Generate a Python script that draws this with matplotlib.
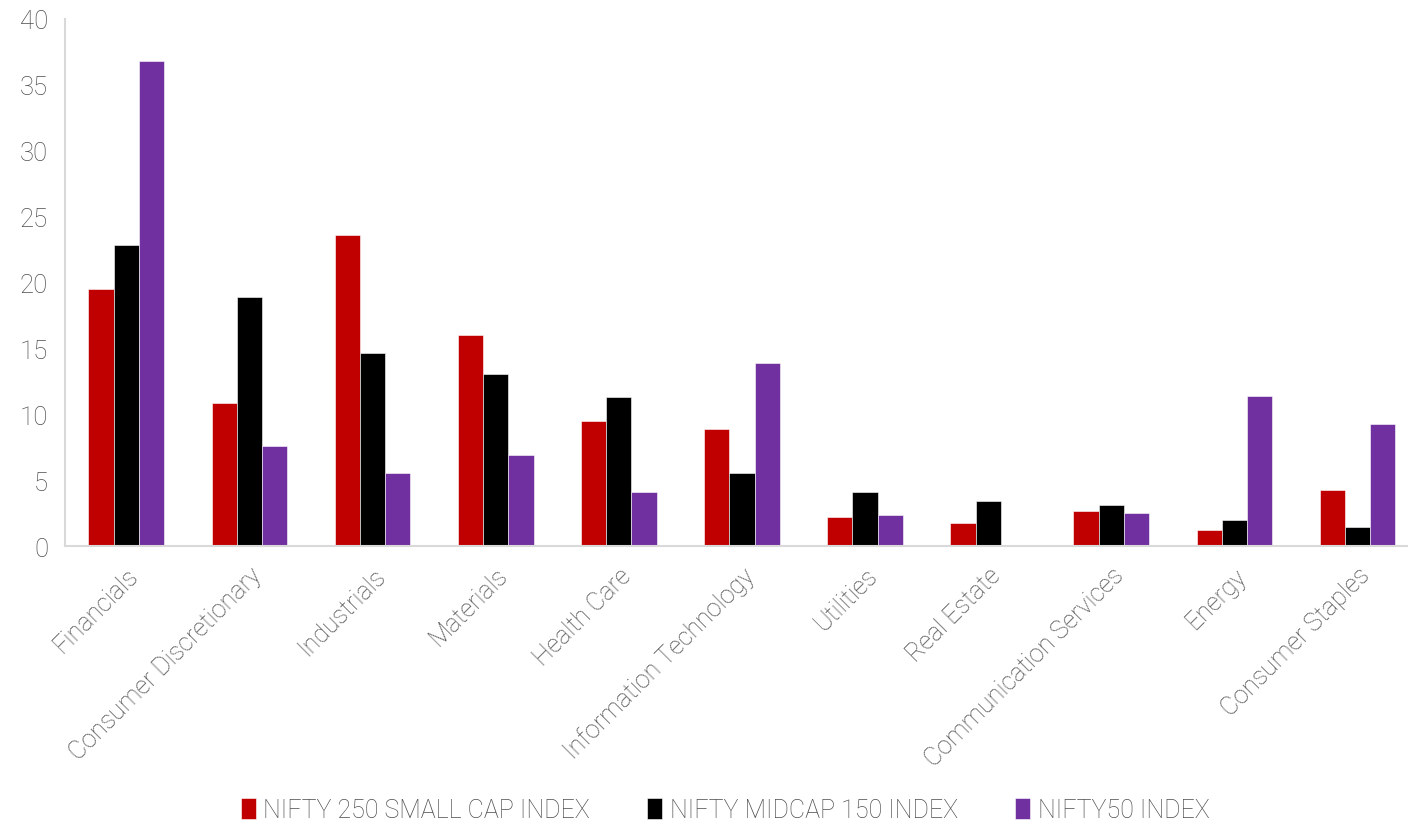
import matplotlib.pyplot as plt
import numpy as np

categories = ['Financials', 'Consumer Discretionary', 'Industrials', 'Materials',
              'Health Care', 'Information Technology', 'Utilities', 'Real Estate',
              'Communication Services', 'Energy', 'Consumer Staples']
small_cap = [19.5, 10.85, 23.6, 16.0, 9.5, 8.9, 2.2, 1.75, 2.65, 1.2, 4.25]
midcap = [22.85, 18.9, 14.65, 13.05, 11.3, 5.55, 4.1, 3.4, 3.1, 1.97, 1.42]
nifty50 = [36.8, 7.6, 5.55, 6.9, 4.1, 13.9, 2.35, 0.0, 2.5, 11.4, 9.25]
series_names = ['NIFTY 250 SMALL CAP INDEX', 'NIFTY MIDCAP 150 INDEX', 'NIFTY50 INDEX']
colors = ['#C00000', '#000000', '#7030A0']

plt.rcParams['font.family'] = ['Roboto', 'DejaVu Sans']
text_color = '#4D4D4D'

fig = plt.figure(figsize=(14.08, 8.29), dpi=100)
ax = fig.add_axes([0.046, 0.340, 0.954, 0.636])

x = np.arange(len(categories))
w = 0.205
for k, (vals, name, c) in enumerate(zip([small_cap, midcap, nifty50], series_names, colors)):
    ax.bar(x + (k - 1) * w, vals, width=w, color=c, label=name,
           edgecolor='white', linewidth=0.4)

ax.set_xlim(-0.5, 10.41)
ax.set_ylim(0, 40)
ax.set_yticks(range(0, 41, 5))
ax.set_xticks(x)
ax.set_xticklabels(categories, rotation=45, ha='right', rotation_mode='anchor',
                   fontsize=18, color=text_color, fontweight='light')
for lab in ax.get_yticklabels():
    lab.set_fontsize(18.5)
    lab.set_color(text_color)
    lab.set_fontweight('light')
ax.tick_params(axis='both', length=0)
ax.tick_params(axis='x', pad=12)
ax.tick_params(axis='y', pad=12)

for s in ['top', 'right']:
    ax.spines[s].set_visible(False)
for s in ['left', 'bottom']:
    ax.spines[s].set_color('#D9D9D9')
    ax.spines[s].set_linewidth(1.5)

leg = fig.legend(loc='lower center', bbox_to_anchor=(0.515, -0.02), ncol=3, frameon=False,
                 handlelength=0.6, handleheight=0.9, handletextpad=0.3,
                 columnspacing=2.3, prop={'weight': 'light', 'size': 18})
for t in leg.get_texts():
    t.set_color(text_color)

fig.savefig('out.png', dpi=100)
